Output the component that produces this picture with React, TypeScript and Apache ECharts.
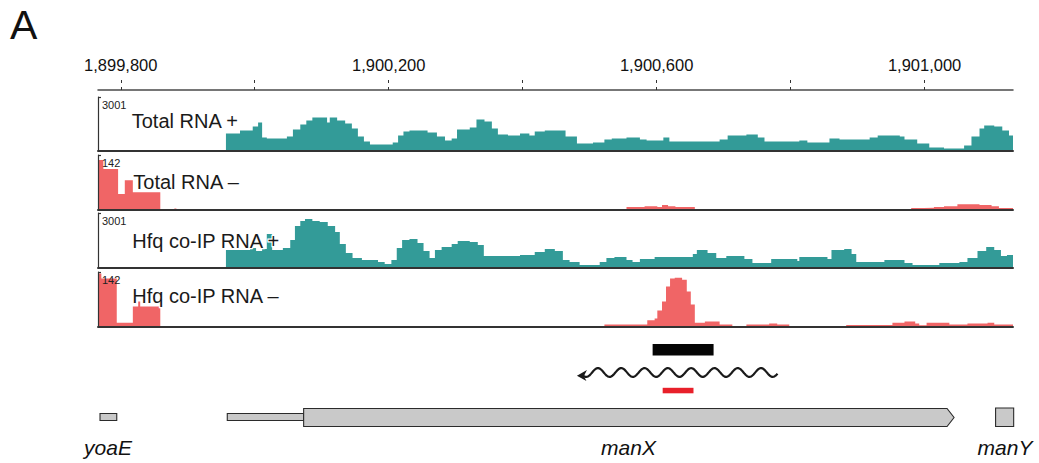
import React, { useEffect, useRef } from 'react';
import * as echarts from 'echarts';

// genomic window (bp)
const X_MIN = 1899766;
const X_MAX = 1901132;

const rulerTicks = [1899800, 1900000, 1900200, 1900400, 1900600, 1900800, 1901000];
const rulerLabels = [1899800, 1900200, 1900600, 1901000];

const trackNames = ['Total RNA +', 'Total RNA –', 'Hfq co-IP RNA +', 'Hfq co-IP RNA –'];
const trackMax = [3001, 142, 3001, 142];

// coverage profiles: [position (bp), reads]
const totalPlus: [number, number][] = [
  [1899766, 0], [1899957, 950], [1899978, 1120], [1899997, 1350], [1900005, 1570], [1900011, 730],
  [1900018, 670], [1900037, 670], [1900048, 790], [1900057, 1180], [1900068, 1460], [1900077, 1680],
  [1900086, 1850], [1900108, 1570], [1900112, 1850], [1900123, 1680], [1900135, 1510], [1900145, 1230],
  [1900154, 790], [1900163, 500], [1900172, 340], [1900206, 450], [1900214, 840], [1900222, 1070],
  [1900231, 1120], [1900258, 1010], [1900272, 790], [1900284, 560], [1900294, 670], [1900302, 1180],
  [1900321, 1290], [1900331, 1740], [1900343, 1630], [1900354, 1230], [1900363, 900], [1900378, 840],
  [1900396, 950], [1900410, 840], [1900418, 1070], [1900433, 1120], [1900464, 790], [1900481, 390],
  [1900505, 450], [1900522, 620], [1900533, 670], [1900555, 730], [1900575, 620], [1900585, 560],
  [1900610, 730], [1900619, 500], [1900694, 620], [1900706, 840], [1900734, 900], [1900751, 730],
  [1900761, 500], [1900813, 560], [1900825, 450], [1900858, 670], [1900873, 620], [1900918, 730],
  [1900930, 840], [1900963, 790], [1900970, 620], [1900989, 390], [1901007, 170], [1901029, 110],
  [1901059, 280], [1901070, 790], [1901082, 1230], [1901089, 1400], [1901104, 1350], [1901116, 1120],
  [1901126, 840], [1901132, 840],
];

const totalMinus: [number, number][] = [
  [1899766, 129], [1899774, 106], [1899796, 41], [1899806, 77], [1899818, 46], [1899859, 0],
  [1899880, 4], [1899883, 0], [1900555, 8], [1900582, 10], [1900601, 8], [1900608, 13],
  [1900617, 10], [1900628, 8], [1900657, 0], [1900980, 5], [1900999, 6], [1901014, 8],
  [1901029, 10], [1901049, 15], [1901082, 13], [1901100, 10], [1901111, 5], [1901132, 5],
];

const hfqPlus: [number, number][] = [
  [1899766, 0], [1899957, 980], [1899978, 980], [1899993, 1090], [1900002, 930], [1900011, 1040],
  [1900018, 1860], [1900026, 980], [1900042, 1090], [1900053, 1530], [1900060, 2290], [1900068, 2570],
  [1900075, 2680], [1900086, 2570], [1900097, 2510], [1900109, 2290], [1900120, 1970], [1900127, 1310],
  [1900136, 820], [1900146, 550], [1900160, 440], [1900184, 330], [1900194, 220], [1900204, 440],
  [1900212, 1090], [1900220, 1530], [1900231, 1580], [1900243, 1370], [1900252, 930], [1900261, 550],
  [1900269, 980], [1900279, 1150], [1900294, 1310], [1900303, 1470], [1900321, 1420], [1900333, 1260],
  [1900342, 660], [1900396, 710], [1900418, 870], [1900433, 1040], [1900448, 930], [1900460, 440],
  [1900470, 330], [1900485, 160], [1900515, 330], [1900525, 550], [1900537, 600], [1900555, 440],
  [1900564, 330], [1900575, 490], [1900597, 600], [1900654, 760], [1900660, 980], [1900676, 820],
  [1900689, 550], [1900704, 660], [1900731, 490], [1900743, 270], [1900771, 490], [1900810, 380],
  [1900813, 600], [1900855, 490], [1900861, 980], [1900880, 1040], [1900891, 760], [1900898, 330],
  [1900940, 440], [1900970, 270], [1900982, 160], [1901022, 270], [1901052, 330], [1901064, 550],
  [1901079, 930], [1901092, 1150], [1901104, 980], [1901114, 660], [1901123, 710], [1901132, 710],
];

const hfqMinus: [number, number][] = [
  [1899766, 138], [1899771, 125], [1899794, 10], [1899818, 52], [1899826, 65], [1899829, 52],
  [1899859, 0], [1900522, 5], [1900586, 16], [1900597, 21], [1900601, 42], [1900608, 65],
  [1900614, 104], [1900620, 125], [1900627, 127], [1900638, 122], [1900645, 91], [1900651, 57],
  [1900657, 10], [1900672, 13], [1900694, 5], [1900713, 0], [1900734, 5], [1900768, 8],
  [1900780, 5], [1900798, 0], [1900883, 4], [1900952, 10], [1900970, 13], [1900986, 8],
  [1900992, 3], [1901003, 10], [1901037, 5], [1901064, 8], [1901094, 10], [1901104, 5],
  [1901132, 5],
];

const trackData = [totalPlus, totalMinus, hfqPlus, hfqMinus];

// annotation features: [start, end, kind]
// kind 0 = small gene / UTR box, 1 = CDS arrow, 2 = tall gene box, 3 = probe bar, 4 = Hfq site, 5 = sRNA transcript
const features: [number, number, number][] = [
  [1899769, 1899794, 0],
  [1899959, 1900073, 0],
  [1900073, 1901044, 1],
  [1901106, 1901133, 2],
  [1900594, 1900685, 3],
  [1900609, 1900655, 4],
  [1900481, 1900781, 5],
];

const geneNames = ['yoaE', 'manX', 'manY'];
const geneLabelPos = [1899781, 1900558, 1901120];

const FONT = '"Liberation Sans", Arial, Helvetica, sans-serif';
const TEAL = '#339b98';
const RED = '#f06566';
const trackColors = [TEAL, RED, TEAL, RED];

const LEFT = 98;
const RIGHT = 26;
const trackTops = [97, 155, 213, 272];
const trackHeights = [53.5, 55, 55, 54.5];
const labelX = [131.7, 133.3, 132.3, 132.3];
const labelY = [121, 182, 241, 296];

export default function App() {
  const ref = useRef<HTMLDivElement>(null);

  useEffect(() => {
    if (!ref.current) return;
    const chart = echarts.init(ref.current, null, { renderer: 'svg' });

    const grid: any[] = [{ left: LEFT, right: RIGHT, top: 80, height: 10 }];
    trackTops.forEach((t, i) => grid.push({ left: LEFT, right: RIGHT, top: t, height: trackHeights[i] }));
    grid.push({ left: LEFT, right: RIGHT, top: 335, height: 100 });

    const xAxis: any[] = [
      {
        type: 'value', gridIndex: 0, position: 'top', min: X_MIN, max: X_MAX, splitNumber: 7,
        axisLine: { show: true, lineStyle: { color: '#4a4a4a', width: 1.5 } },
        axisTick: { show: true, length: 3, customValues: rulerTicks, lineStyle: { color: '#333', width: 1 } },
        axisLabel: {
          show: true, customValues: rulerLabels, margin: 7, fontSize: 16.5, color: '#111', fontFamily: FONT,
          formatter: (v: number) => Number(v).toLocaleString('en-US'),
        },
        splitLine: { show: false },
      },
      {
        type: 'value', gridIndex: 0, position: 'top', min: X_MIN, max: X_MAX, splitNumber: 7,
        axisLine: { show: false },
        axisTick: { show: true, inside: true, length: 3, customValues: rulerTicks, lineStyle: { color: '#333', width: 1 } },
        axisLabel: { show: false },
        splitLine: { show: false },
      },
    ];
    const yAxis: any[] = [{ type: 'value', gridIndex: 0, min: 0, max: 1, show: false }];

    trackData.forEach((_, i) => {
      xAxis.push({
        type: 'value', gridIndex: i + 1, min: X_MIN, max: X_MAX, z: 5,
        axisLine: { show: true, onZero: false, lineStyle: { color: '#333', width: 2 } },
        axisTick: { show: false }, axisLabel: { show: false }, splitLine: { show: false },
      });
      yAxis.push({
        type: 'value', gridIndex: i + 1, min: 0, max: trackMax[i], z: 5,
        axisLine: { show: true, lineStyle: { color: '#333', width: 1.2 } },
        axisTick: { show: true, inside: true, length: 3, customValues: [trackMax[i]], lineStyle: { color: '#333', width: 1.2 } },
        axisLabel: {
          show: true, inside: true, customValues: [trackMax[i]], margin: 4, fontSize: 11, color: '#222',
          fontFamily: FONT, verticalAlign: 'top', padding: [2, 0, 0, 0], formatter: (v: number) => String(v),
        },
        splitLine: { show: false },
      });
    });

    xAxis.push({ type: 'value', gridIndex: 5, min: X_MIN, max: X_MAX, show: false });
    yAxis.push({ type: 'value', gridIndex: 5, min: 0, max: 1, show: false });

    const series: any[] = trackData.map((d, i) => ({
      type: 'line', xAxisIndex: i + 2, yAxisIndex: i + 1, data: d, step: 'end', symbol: 'none',
      lineStyle: { width: 0 }, color: trackColors[i],
      areaStyle: { color: trackColors[i], opacity: 1 }, z: 2,
    }));

    series.push({
      type: 'custom', xAxisIndex: 6, yAxisIndex: 5, clip: false, data: features, z: 3,
      encode: { x: [0, 1] },
      renderItem: (params: any, api: any) => {
        const s = api.value(0);
        const e = api.value(1);
        const k = api.value(2);
        const x1 = api.coord([s, 0])[0];
        const x2 = api.coord([e, 0])[0];
        const top = params.coordSys.y;
        const geneStyle = { fill: '#c9c9c9', stroke: '#2b2b2b', lineWidth: 1.1 };
        if (k === 0) {
          return { type: 'rect', shape: { x: x1, y: top + 78.5, width: x2 - x1, height: 7 }, style: geneStyle };
        }
        if (k === 1) {
          const y0 = top + 73.5, y1 = top + 91.5, ym = (y0 + y1) / 2;
          return {
            type: 'polygon',
            shape: { points: [[x1, y0], [x2 - 7, y0], [x2, ym], [x2 - 7, y1], [x1, y1]] },
            style: geneStyle,
          };
        }
        if (k === 2) {
          return { type: 'rect', shape: { x: x1, y: top + 73, width: x2 - x1, height: 18.5 }, style: geneStyle };
        }
        if (k === 3) {
          return { type: 'rect', shape: { x: x1, y: top + 9, width: x2 - x1, height: 11.5 }, style: { fill: '#050505' } };
        }
        if (k === 4) {
          return { type: 'rect', shape: { x: x1, y: top + 52.8, width: x2 - x1, height: 5.5 }, style: { fill: '#e8202a' } };
        }
        // wavy transcript with arrow to the left
        const cy = top + 37.5;
        const amp = 4.4;
        const period = 23.3;
        const pts: number[][] = [];
        for (let x = x1 + 7; x <= x2; x += 0.8) {
          pts.push([x, cy - amp * Math.cos((2 * Math.PI * (x - (x1 + 21))) / period)]);
        }
        return {
          type: 'group',
          children: [
            { type: 'polyline', shape: { points: pts }, style: { stroke: '#1a1a1a', lineWidth: 2.2, fill: null } },
            {
              type: 'polygon',
              shape: { points: [[x1, cy + 3.2], [x1 + 10, cy - 2.5], [x1 + 7, cy + 3.4], [x1 + 9.5, cy + 8.5]] },
              style: { fill: '#1a1a1a' },
            },
          ],
        };
      },
    });

    series.push({
      type: 'custom', xAxisIndex: 6, yAxisIndex: 5, clip: false, z: 3,
      data: geneLabelPos.map((p) => [p, 0]),
      renderItem: (params: any, api: any) => {
        const x = api.coord([api.value(0), 0])[0];
        return {
          type: 'text',
          style: {
            x, y: params.coordSys.y + 112, text: geneNames[params.dataIndex], fontSize: 21,
            fontStyle: 'italic', fontFamily: FONT, fill: '#111', align: 'center', verticalAlign: 'middle',
          },
        };
      },
    });

    const graphic: any[] = [
      {
        type: 'text', z: 100, x: 10, y: 25,
        style: { text: 'A', fontSize: 41, fontFamily: FONT, fill: '#111', verticalAlign: 'middle' },
      },
    ];
    trackNames.forEach((n, i) => {
      graphic.push({
        type: 'text', z: 100, x: labelX[i], y: labelY[i],
        style: {
          text: n, fontSize: 20, fontFamily: FONT, fill: '#1a1a1a', verticalAlign: 'middle',
          stroke: '#fff', lineWidth: 2.5,
        },
      });
    });

    chart.setOption({
      animation: false,
      backgroundColor: '#fff',
      grid, xAxis, yAxis, series, graphic,
    });

    return () => chart.dispose();
  }, []);

  return (
    <div
      ref={ref}
      style={{ position: 'fixed', left: 0, top: 0, width: 1039, height: 463, background: '#fff' }}
    />
  );
}
